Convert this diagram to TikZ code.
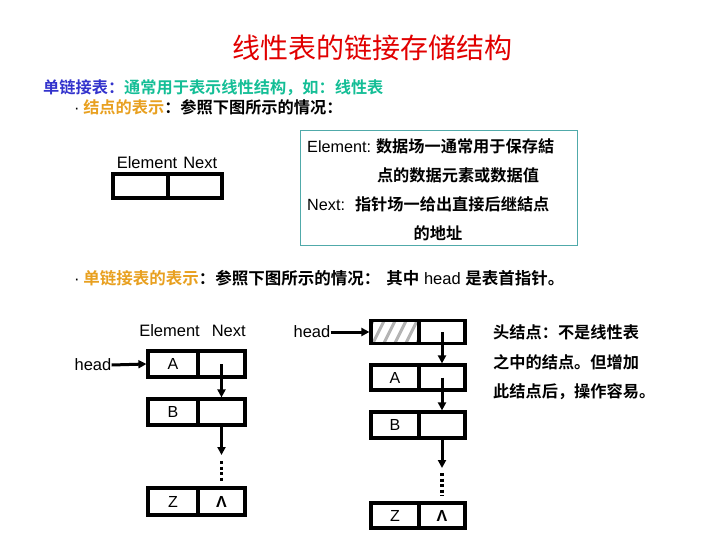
\documentclass[tikz,border=0pt]{standalone}
\usepackage{fontspec}
\setmainfont{Liberation Sans}
\newfontfamily\cjk{Noto Sans CJK SC}[BoldFont={Noto Sans CJK SC Bold}]
\usetikzlibrary{arrows.meta}
\definecolor{titlered}{RGB}{225,0,0}
\definecolor{hdblue}{RGB}{51,51,204}
\definecolor{hdteal}{RGB}{20,190,150}
\definecolor{hdorange}{RGB}{232,160,32}
\definecolor{boxteal}{RGB}{80,170,170}
\definecolor{hatch}{RGB}{180,180,180}
\newcommand\lt[1]{{\rmfamily\mdseries #1}}
\begin{document}
\begin{tikzpicture}[x=1pt,y=-1pt,
  cell/.style={draw,line width=3.2pt,inner sep=0pt,minimum height=25pt,font=\fontsize{16}{18}\selectfont},
  lat/.style={inner sep=0pt,font=\fontsize{16.5}{18}\selectfont},
  zh/.style={inner sep=0pt,font=\cjk\bfseries\fontsize{16.2}{18}\selectfont},
  link/.style={line width=3pt,-{Triangle[length=8pt,width=8pt]}},
  dots/.style={line width=3.5pt,dash pattern=on 3pt off 2.5pt}]
\useasboundingbox (0,0) rectangle (720,540);

% title
\node[inner sep=0pt,font=\cjk\fontsize{28}{30}\selectfont,text=titlered] (title) at (372.5,48) {线性表的链接存储结构};

% heading lines
\node[zh,anchor=west] (l1) at (43,88) {\textcolor{hdblue}{单链接表：}\textcolor{hdteal}{通常用于表示线性结构，如：线性表}};
\node[zh,anchor=west] (l2) at (74,107) {\lt{·} \textcolor{hdorange}{结点的表示}：参照下图所示的情况：};

% single node
\node[lat] (lab0) at (167,163) {Element\hspace{6pt}Next};
\node[cell,minimum width=55pt,minimum height=24pt] (e0) at (140.5,186) {};
\node[cell,minimum width=54pt,minimum height=24pt] (n0) at (195,186) {};

% description box
\node[draw=boxteal,line width=1pt,minimum width=277pt,minimum height=114pt,inner sep=0pt] (desc) at (438.5,188) {};
\node[zh,anchor=west] (d1) at (307,146) {\lt{Element:} 数据场一通常用于保存結};
\node[zh] (d2) at (458,175) {点的数据元素或数据值};
\node[zh,anchor=west] (d3) at (307,204) {\lt{Next:}\hspace{10pt}指针场一给出直接后继結点};
\node[zh] (d4) at (438,233) {的地址};

% list line
\node[zh,anchor=west,font=\cjk\bfseries\fontsize{16.5}{18}\selectfont] (l3) at (74,278) {\lt{·} \textcolor{hdorange}{单链接表的表示}：参照下图所示的情况：\hspace{6pt}其中\lt{ head }是表首指针。};

% left list
\node[lat] (lab1) at (192.5,331) {Element\hspace{12pt}Next};
\node[lat] (hL) at (93,365) {head};
\node[cell,minimum width=50pt,minimum height=26pt] (La) at (173,364) {A};
\node[cell,minimum width=47pt,minimum height=26pt] (Lan) at (221.5,364) {};
\node[cell,minimum width=50pt,minimum height=26pt] (Lb) at (173,412) {B};
\node[cell,minimum width=47pt,minimum height=26pt] (Lbn) at (221.5,412) {};
\node[cell,minimum width=50pt,minimum height=27pt] (Lz) at (173,501.5) {Z};
\node[cell,minimum width=47pt,minimum height=27pt] (Lzn) at (221.5,501.5) {\textbf{Λ}};
\coordinate (Ld) at (221.5,455);
\draw[link] (hL.east) -- (La.west);
\draw[link] (Lan.center) -- (Lbn.north);
\draw[link] (Lbn.south) -- (Ld);
\draw[dots,shorten <=6pt,shorten >=4pt] (Ld) -- (Lzn.north);

% right list
\begin{scope}
\clip (371,321) rectangle (419,343);
\foreach \i in {0,...,6}{
  \draw[hatch,line width=3pt] (360+\i*11,347) -- (375+\i*11,317);
}
\end{scope}
\node[lat] (hR) at (312,332) {head};
\node[cell,minimum width=48pt,minimum height=23pt] (Rh) at (395,332) {};
\node[cell,minimum width=46pt,minimum height=23pt] (Rhn) at (442,332) {};
\node[cell,minimum width=48pt] (Ra) at (395,377.5) {A};
\node[cell,minimum width=46pt] (Ran) at (442,377.5) {};
\node[cell,minimum width=48pt,minimum height=26pt] (Rb) at (395,425) {B};
\node[cell,minimum width=46pt,minimum height=26pt] (Rbn) at (442,425) {};
\node[cell,minimum width=48pt] (Rz) at (395,515.5) {Z};
\node[cell,minimum width=46pt] (Rzn) at (442,515.5) {\textbf{Λ}};
\coordinate (Rd) at (442,468);
\draw[link] (hR.east) -- (Rh.west);
\draw[link] (Rhn.center) -- (Ran.north);
\draw[link] (Ran.center) -- (Rbn.north);
\draw[link] (Rbn.south) -- (Rd);
\draw[dots,shorten <=5pt,shorten >=6pt] (Rd) -- (Rzn.north);

\node[zh,anchor=west] (r1) at (493,332) {头结点：不是线性表};
\node[zh,anchor=west] (r2) at (493,362) {之中的结点。但增加};
\node[zh,anchor=west] (r3) at (493,392) {此结点后，操作容易。};
\end{tikzpicture}
\end{document}
